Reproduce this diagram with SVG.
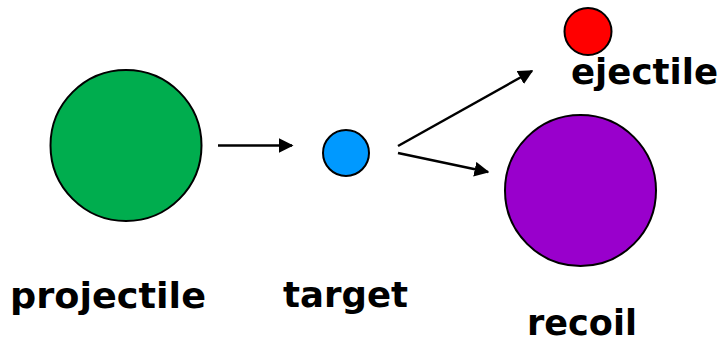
<svg xmlns="http://www.w3.org/2000/svg" width="724" height="344" viewBox="0 0 724 344">
<style>
.n{stroke:#000;stroke-width:2}
.t{font-family:"DejaVu Sans","Verdana",sans-serif;font-weight:bold;font-size:35px;fill:#000}
.c{stroke:#000;stroke-width:2.5;fill:none;marker-end:url(#ah)}
</style>
<defs>
<marker id="ah" viewBox="0 0 10 10" refX="9" refY="5" markerWidth="6" markerHeight="6" markerUnits="strokeWidth" orient="auto">
<path d="M0,0 L10,5 L0,10 z" fill="#000"/>
</marker>
</defs>
<rect width="724" height="344" fill="#fff"/>
<g id="projectile"><circle class="n" cx="126" cy="145.5" r="75.5" fill="#00AD4E"/><text class="t" x="10" y="308" textLength="196" lengthAdjust="spacingAndGlyphs">projectile</text></g>
<g id="target"><circle class="n" cx="346" cy="153" r="23" fill="#0099FF"/><text class="t" x="283" y="307" textLength="125" lengthAdjust="spacingAndGlyphs">target</text></g>
<g id="ejectile"><circle class="n" cx="588" cy="31.5" r="23.5" fill="#FF0000"/><text class="t" x="571" y="84" textLength="147" lengthAdjust="spacingAndGlyphs">ejectile</text></g>
<g id="recoil"><circle class="n" cx="580.5" cy="190.5" r="75.5" fill="#9900CC"/><text class="t" x="527" y="335" textLength="110" lengthAdjust="spacingAndGlyphs">recoil</text></g>
<g id="connectors">
<line class="c" x1="218" y1="145.5" x2="292" y2="145.5"/>
<line class="c" x1="398" y1="146" x2="532" y2="71"/>
<line class="c" x1="398" y1="153" x2="488" y2="172"/>
</g>
</svg>
